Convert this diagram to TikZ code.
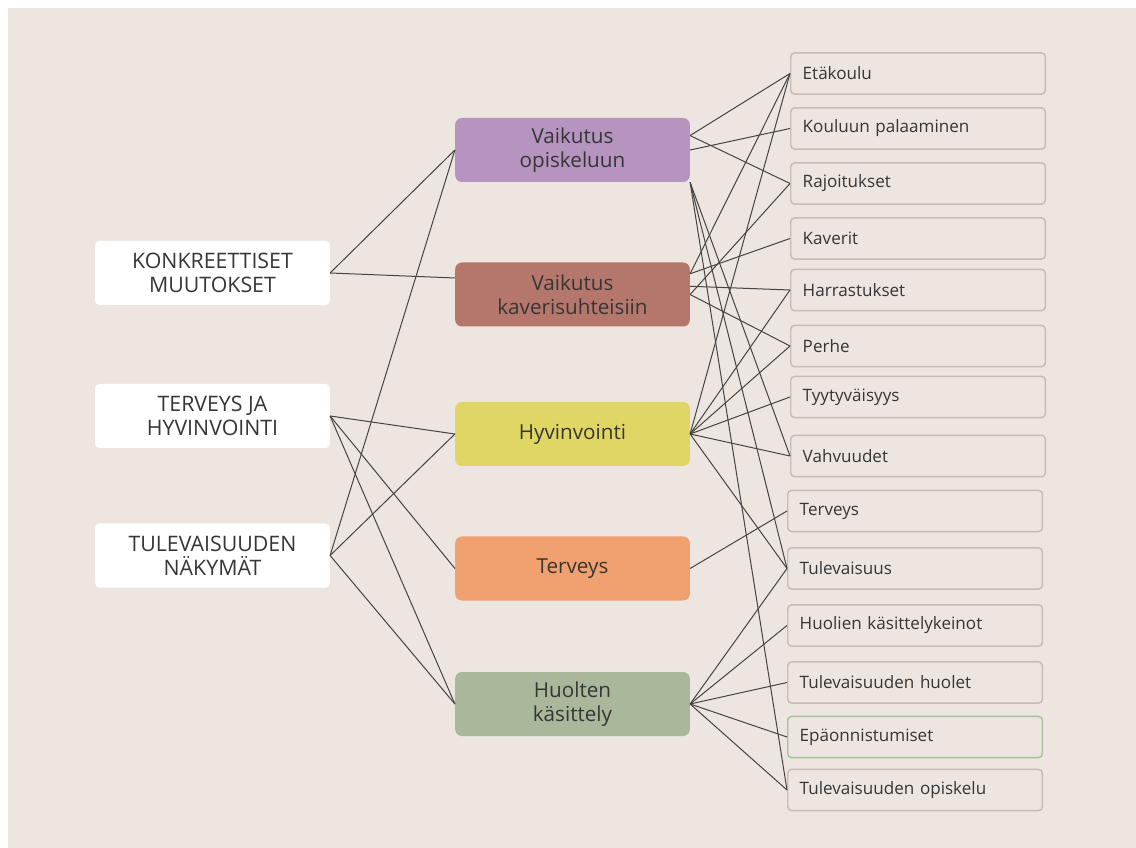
\documentclass[tikz,border=0pt]{standalone}
\usepackage{fontspec}
\setmainfont{Open Sans}
\definecolor{bgbeige}{HTML}{EDE5DF}
\definecolor{txtgray}{HTML}{363636}
\definecolor{linegray}{HTML}{444444}
\definecolor{boxrim}{HTML}{C6BDB4}
\definecolor{rimgreen}{HTML}{A9C29B}
\definecolor{fillpurple}{HTML}{B594BF}
\definecolor{fillbrown}{HTML}{B5776B}
\definecolor{fillyellow}{HTML}{E0D664}
\definecolor{fillorange}{HTML}{F1A06F}
\definecolor{fillsage}{HTML}{A9B79B}
\tikzset{
  themebox/.style={fill=white, rounded corners=3pt, minimum width=176pt, minimum height=48pt,
    align=center, text=txtgray, font=\fontsize{16}{18}\selectfont, inner sep=0pt},
  midbox/.style={rounded corners=5pt, minimum width=176pt, minimum height=48pt,
    align=center, text=txtgray, font=\fontsize{15.5}{18}\selectfont, inner sep=0pt},
  codebox/.style={draw=boxrim, line width=1.1pt, fill=bgbeige, rounded corners=3pt, anchor=west,
    minimum height=31pt, text width=173pt, align=left, inner xsep=9pt, inner ysep=0pt,
    text=txtgray, font=\fontsize{12.8}{15}\selectfont},
  link/.style={draw=linegray, line width=0.75pt}
}
\begin{document}
\begin{tikzpicture}[x=0.75pt,y=0.75pt,yscale=-1,xscale=1]
% background
\fill[white] (0,0) rectangle (1136,848);
\fill[bgbeige] (8,8) rectangle (1136,848);

% left column
\node[themebox] (konkr) at (212.5,273) {KONKREETTISET\\MUUTOKSET};
\node[themebox] (tervhyv) at (212.5,416) {TERVEYS JA\\HYVINVOINTI};
\node[themebox] (tulnak) at (212.5,555.5) {TULEVAISUUDEN\\NÄKYMÄT};

% middle column
\node[midbox, fill=fillpurple] (opisk) at (572.5,150) {Vaikutus\\opiskeluun};
\node[midbox, fill=fillbrown] (kaver) at (572.5,294.5) {Vaikutus\\kaverisuhteisiin};
\node[midbox, fill=fillyellow] (hyv) at (572.5,434) {Hyvinvointi};
\node[midbox, fill=fillorange] (terv) at (572.5,568.5) {Terveys};
\node[midbox, fill=fillsage] (huolet) at (572.5,704) {Huolten\\käsittely};

% right column
\node[codebox] (etakoulu) at (790,73.5) {Etäkoulu};
\node[codebox] (kouluun) at (790,128.5) {Kouluun palaaminen};
\node[codebox] (rajoit) at (790,183.5) {Rajoitukset};
\node[codebox] (kaverit) at (790,238.5) {Kaverit};
\node[codebox] (harrast) at (790,290) {Harrastukset};
\node[codebox] (perhe) at (790,346) {Perhe};
\node[codebox] (tyytyv) at (790,397) {Tyytyväisyys};
\node[codebox] (vahvuus) at (790,456) {Vahvuudet};
\node[codebox] (terveysr) at (787,511) {Terveys};
\node[codebox] (tulev) at (787,568.5) {Tulevaisuus};
\node[codebox] (huolkeino) at (787,625.5) {Huolien käsittelykeinot};
\node[codebox] (tulhuolet) at (787,682.5) {Tulevaisuuden huolet};
\node[codebox, draw=rimgreen] (epaonn) at (787,737) {Epäonnistumiset};
\node[codebox] (tulopisk) at (787,790) {Tulevaisuuden opiskelu};

% Straight Lines, left to middle
\draw[link] (konkr.east) -- (opisk.west);
\draw[link] (konkr.east) -- (kaver.172);
\draw[link] (tervhyv.east) -- (hyv.west);
\draw[link] (tervhyv.east) -- (terv.west);
\draw[link] (tervhyv.east) -- (huolet.west);
\draw[link] (tulnak.east) -- (opisk.west);
\draw[link] (tulnak.east) -- (hyv.west);
\draw[link] (tulnak.east) -- (huolet.west);

% Straight Lines, middle to right
\draw[link] (opisk.7) -- (etakoulu.west);
\draw[link] (opisk.7) -- (rajoit.west);
\draw[link] (opisk.east) -- (kouluun.west);
\draw[link] (opisk.south east) -- (vahvuus.west);
\draw[link] (opisk.south east) -- (tulev.west);
\draw[link] (opisk.south east) -- (tulopisk.west);
\draw[link] (kaver.10) -- (etakoulu.west);
\draw[link] (kaver.10) -- (kaverit.west);
\draw[link] (kaver.4) -- (harrast.west);
\draw[link] (kaver.east) -- (rajoit.west);
\draw[link] (kaver.east) -- (perhe.west);
\draw[link] (hyv.east) -- (etakoulu.west);
\draw[link] (hyv.east) -- (harrast.west);
\draw[link] (hyv.east) -- (perhe.west);
\draw[link] (hyv.east) -- (tyytyv.west);
\draw[link] (hyv.east) -- (vahvuus.west);
\draw[link] (hyv.east) -- (tulev.west);
\draw[link] (terv.east) -- (terveysr.west);
\draw[link] (huolet.east) -- (tulev.west);
\draw[link] (huolet.east) -- (huolkeino.west);
\draw[link] (huolet.east) -- (tulhuolet.west);
\draw[link] (huolet.east) -- (epaonn.west);
\draw[link] (huolet.east) -- (tulopisk.west);
\end{tikzpicture}
\end{document}
